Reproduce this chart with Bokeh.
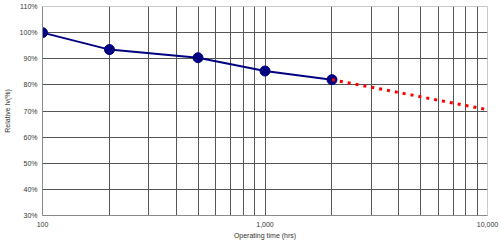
from bokeh.plotting import figure
from bokeh.models import FixedTicker, NumeralTickFormatter, PrintfTickFormatter, ColumnDataSource
from bokeh.embed import file_html
from bokeh.resources import INLINE

# data
hours = [100, 200, 500, 1000, 2000]
relative_iv = [100, 93.5, 90.4, 85.3, 82.0]
proj_hours = [2000, 10000]
proj_iv = [82.0, 70.5]

x_major = [100, 1000, 10000]
x_minor = [200, 300, 400, 500, 600, 700, 800, 900,
           2000, 3000, 4000, 5000, 6000, 7000, 8000, 9000]
y_ticks = [30, 40, 50, 60, 70, 80, 90, 100, 110]

p = figure(width=500, height=241, x_axis_type="log", x_range=(100, 10000), y_range=(30, 110),
           output_backend="svg", toolbar_location=None,
           min_border_left=30, min_border_right=13, min_border_top=6, min_border_bottom=25)
p.background_fill_color = "white"
p.border_fill_color = "white"
p.outline_line_color = "#c8c8c8"

p.xaxis.ticker = FixedTicker(ticks=x_major, minor_ticks=x_minor)
p.yaxis.ticker = FixedTicker(ticks=y_ticks)
p.xaxis.formatter = NumeralTickFormatter(format="0,0")
p.yaxis.formatter = PrintfTickFormatter(format="%d%%")

for ax in (p.xaxis, p.yaxis):
    ax.major_tick_line_color = None
    ax.minor_tick_line_color = None
    ax.major_tick_out = 0
    ax.minor_tick_out = 0
    ax.axis_line_color = "#888888"
    ax.major_label_text_font = "Liberation Sans"
    ax.major_label_text_font_size = "7px"
    ax.major_label_text_color = "#333333"
    ax.axis_label_text_font = "Liberation Sans"
    ax.axis_label_text_font_size = "7px"
    ax.axis_label_text_font_style = "normal"
    ax.axis_label_text_color = "#333333"

p.xaxis.axis_label = "Operating time (hrs)"
p.yaxis.axis_label = "Relative Iv(%)"
p.xaxis.major_label_standoff = 6
p.xaxis.axis_label_standoff = 2
p.yaxis.major_label_standoff = 5
p.yaxis.axis_label_standoff = 6

p.xgrid.grid_line_color = "#555555"
p.xgrid.minor_grid_line_color = "#555555"
p.ygrid.grid_line_color = "#555555"
p.xgrid.grid_line_width = 1
p.ygrid.grid_line_width = 1

src = ColumnDataSource(dict(x=hours, y=relative_iv))
p.line("x", "y", source=src, line_color="#000080", line_width=2)
p.scatter("x", "y", source=src, size=10, fill_color="#000080", line_color="#000080")

p.line(proj_hours, proj_iv, line_color="red", line_width=3, line_dash="3 5")

open("out.html", "w").write(file_html(p, INLINE))
